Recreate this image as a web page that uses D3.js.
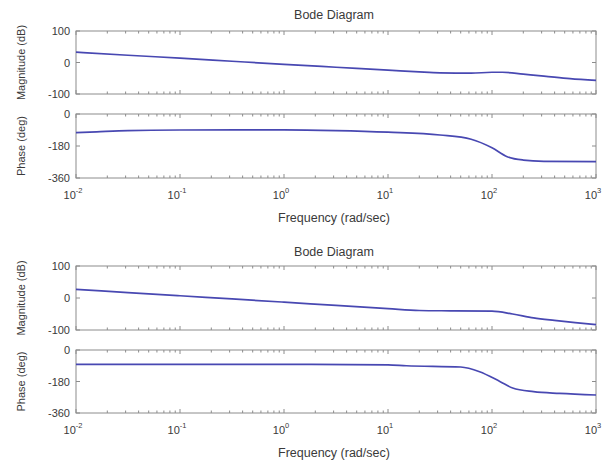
<!DOCTYPE html>
<html><head><meta charset="utf-8">
<script src="https://cdn.jsdelivr.net/npm/d3@7"></script>
<style>body{margin:0;background:#fff}svg{display:block}text{font-family:"Liberation Sans",Arial,sans-serif;fill:#3a3a3a}</style>
</head><body>
<script>
// ---- data ----
const xTicks = [0.01, 0.1, 1, 10, 100, 1000];
const xTickExp = ["-2", "-1", "0", "1", "2", "3"];
const magTicks = [100, 0, -100];
const phaseTicks = [0, -180, -360];
const titles = ["Bode Diagram", "Bode Diagram"];

const magFreq1 = [0.01, 0.0316, 0.1, 0.316, 1, 3.16, 10, 20, 31.6, 63, 100, 126, 200, 316, 562, 1000];
const magVal1  = [33, 23, 14, 4, -6, -15, -24, -30, -33, -34, -31, -31, -37, -43, -51, -57];
const phFreq1  = [0.01, 0.0158, 0.0316, 0.1, 1, 3.16, 10, 31.6, 63, 100, 140, 200, 316, 1000];
const phVal1   = [-105, -100, -93, -90, -89, -93, -102, -118, -142, -190, -240, -259, -266, -268];

const magFreq2 = [0.01, 0.0316, 0.1, 0.316, 1, 3.16, 10, 20, 40, 100, 158, 251, 398, 631, 1000];
const magVal2  = [27, 17, 7, -3, -13, -23, -33, -39, -40, -41, -50, -62, -70, -77, -83];
const phFreq2  = [0.01, 0.1, 1, 10, 15, 50, 76, 120, 158, 251, 447, 1000];
const phVal2   = [-82, -82, -82, -85, -90, -97, -124, -181, -217, -238, -248, -257];

const W = 610, H = 461;
const L = 76, R = 596;
const svg = d3.select("body").append("svg").attr("width", W).attr("height", H);
const x = d3.scaleLog().domain([0.01, 1000]).range([L, R]);

function minorTicks() {
  const out = [];
  for (let e = -2; e < 3; e++) for (let k = 2; k <= 9; k++) out.push(k * Math.pow(10, e));
  return out;
}

function panel(y0, y1, domain, yTicks, freq, vals, ylabel, showX) {
  const y = d3.scaleLinear().domain(domain).range([y1, y0]);
  const g = svg.append("g");
  g.append("rect").attr("x", L).attr("y", y0).attr("width", R - L).attr("height", y1 - y0)
    .attr("fill", "#fff").attr("stroke", "#8c8c8c").attr("stroke-width", 1);
  const maj = xTicks, mn = minorTicks();
  [[y0, 1], [y1, -1]].forEach(([yy, dir]) => {
    g.selectAll(null).data(maj).enter().append("line")
      .attr("x1", d => x(d)).attr("x2", d => x(d))
      .attr("y1", yy).attr("y2", yy + dir * 4).attr("stroke", "#8c8c8c");
    g.selectAll(null).data(mn).enter().append("line")
      .attr("x1", d => x(d)).attr("x2", d => x(d))
      .attr("y1", yy).attr("y2", yy + dir * 2.5).attr("stroke", "#8c8c8c");
  });
  [[L, 1], [R, -1]].forEach(([xx, dir]) => {
    g.selectAll(null).data(yTicks).enter().append("line")
      .attr("x1", xx).attr("x2", xx + dir * 4)
      .attr("y1", d => y(d)).attr("y2", d => y(d)).attr("stroke", "#8c8c8c");
  });
  g.selectAll(null).data(yTicks).enter().append("text")
    .attr("x", L - 6).attr("y", d => y(d) + 4).attr("text-anchor", "end")
    .attr("font-size", 11).text(d => d);
  g.append("text").attr("transform", `translate(25,${(y0 + y1) / 2}) rotate(-90)`)
    .attr("text-anchor", "middle").attr("font-size", 11).text(ylabel);
  const pts = freq.map((f, i) => [f, vals[i]]);
  g.append("path").datum(pts)
    .attr("d", d3.line().x(d => x(d[0])).y(d => y(d[1])).curve(d3.curveMonotoneX))
    .attr("fill", "none").attr("stroke", "#4848b2").attr("stroke-width", 1.7);
  if (showX) {
    const t = g.selectAll(null).data(xTicks).enter().append("text")
      .attr("x", d => x(d) - 3).attr("y", y1 + 21).attr("text-anchor", "middle").attr("font-size", 11);
    t.append("tspan").text("10");
    t.append("tspan").attr("dy", -6).attr("font-size", 7.5).text((d, i) => xTickExp[i]);
    g.append("text").attr("x", 334).attr("y", y1 + 44).attr("text-anchor", "middle")
      .attr("font-size", 12.5).text("Frequency (rad/sec)");
  }
}

svg.append("text").attr("x", 334).attr("y", 19).attr("text-anchor", "middle").attr("font-size", 12.5).text(titles[0]);
panel(31, 94, [-100, 100], magTicks, magFreq1, magVal1, "Magnitude (dB)", false);
panel(114, 178, [-360, 0], phaseTicks, phFreq1, phVal1, "Phase (deg)", true);

svg.append("text").attr("x", 334).attr("y", 256).attr("text-anchor", "middle").attr("font-size", 12.5).text(titles[1]);
panel(266, 330, [-100, 100], magTicks, magFreq2, magVal2, "Magnitude (dB)", false);
panel(350, 413, [-360, 0], phaseTicks, phFreq2, phVal2, "Phase (deg)", true);
</script>
</body></html>
